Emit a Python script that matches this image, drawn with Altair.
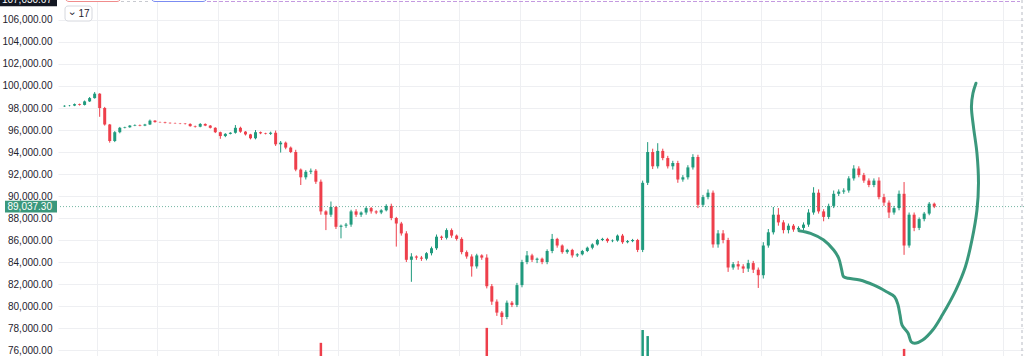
import altair as alt
import pandas as pd

# ---------------- data (prices in thousands of USD, 2-hour candles) ----------------
first_open = 98.15
closes = [
    98.20, 98.22, 98.35, 98.28, 98.60, 98.90, 99.30, 98.00, 96.50, 95.00,
    95.80, 96.20, 96.25, 96.40, 96.45, 96.40, 96.50, 96.85, 96.72, 96.70,
    96.65, 96.62, 96.60, 96.58, 96.55, 96.35, 96.30, 96.55, 96.40, 96.20,
    95.80, 95.45, 95.65, 95.75, 96.20, 95.85, 95.60, 95.25, 95.80, 95.70,
    95.65, 95.75, 94.70, 94.85, 94.40, 94.00, 92.40, 91.70, 92.20, 92.30,
    91.30, 88.60, 88.30, 89.00, 87.20, 87.30, 87.40, 88.60, 88.30, 88.50,
    88.90, 88.60, 88.50, 88.70, 89.10, 88.00, 87.50, 86.60, 84.20, 84.50,
    84.40, 84.30, 84.80, 85.25, 86.30, 86.20, 86.90, 86.40, 86.10, 84.90,
    84.50, 83.60, 84.60, 84.40, 81.80, 80.40, 79.40, 79.00, 80.30, 80.10,
    81.90, 84.00, 84.60, 84.20, 84.30, 84.00, 85.00, 86.10, 85.50, 84.90,
    85.10, 84.60, 84.70, 85.00, 85.30, 85.60, 86.00, 86.10, 85.90, 85.95,
    86.40, 85.80, 85.90, 86.00, 85.10, 91.20, 94.00, 92.70, 94.10, 93.45,
    92.70, 93.00, 91.50, 91.70, 92.60, 93.55, 89.20, 89.90, 90.30, 85.60,
    86.60, 86.00, 83.50, 83.80, 83.60, 83.40, 83.90, 83.30, 82.80, 85.50,
    86.70, 88.30, 87.60, 86.90, 87.30, 86.95, 87.10, 87.40, 88.50, 90.30,
    88.60, 88.10, 89.10, 90.20, 90.40, 90.50, 91.60, 92.50, 91.90, 91.40,
    91.00, 91.40, 89.90, 89.40, 88.50, 88.90, 90.20, 85.50, 88.30, 87.10,
    87.90, 88.40, 89.30, 89.0373,
]
wick_hi = [
    0.05, 0.05, 0.06, 0.05, 0.08, 0.10, 0.15, 0.05, 0.10, 0.05,
    0.10, 0.08, 0.05, 0.05, 0.06, 0.05, 0.06, 0.10, 0.05, 0.04,
    0.05, 0.04, 0.05, 0.04, 0.05, 0.06, 0.05, 0.08, 0.05, 0.05,
    0.05, 0.05, 0.06, 0.05, 0.25, 0.10, 0.05, 0.05, 0.20, 0.06,
    0.05, 0.10, 0.20, 0.15, 0.10, 0.10, 0.20, 0.10, 0.15, 0.20,
    0.15, 0.20, 0.10, 0.50, 0.10, 0.10, 0.15, 0.15, 0.20, 0.10,
    0.15, 0.10, 0.10, 0.10, 0.15, 0.20, 0.10, 0.15, 0.20, 0.30,
    0.10, 0.15, 0.10, 0.15, 0.20, 0.10, 0.16, 0.15, 0.10, 0.15,
    0.15, 0.20, 0.15, 0.10, 0.30, 0.20, 0.20, 0.15, 0.20, 0.15,
    0.20, 0.20, 0.40, 0.15, 0.10, 0.10, 0.15, 0.45, 0.10, 0.10,
    0.10, 0.10, 0.10, 0.10, 0.10, 0.10, 0.10, 0.10, 0.10, 0.10,
    0.10, 0.15, 0.10, 0.10, 0.10, 0.20, 0.90, 0.30, 0.70, 0.20,
    0.20, 0.20, 0.20, 0.20, 0.20, 0.25, 0.20, 0.20, 0.30, 0.20,
    0.30, 0.30, 0.20, 0.20, 0.30, 0.20, 0.30, 0.20, 0.20, 0.30,
    0.30, 0.70, 0.60, 0.20, 0.20, 0.15, 0.15, 0.20, 0.30, 0.50,
    0.30, 0.20, 0.20, 0.30, 0.20, 0.20, 0.20, 0.30, 0.20, 0.20,
    0.20, 0.20, 0.30, 0.30, 0.20, 0.20, 0.30, 1.07, 0.20, 0.20,
    0.15, 0.15, 0.15, 0.10,
]
wick_lo = [
    0.05, 0.05, 0.05, 0.06, 0.05, 0.05, 0.05, 0.80, 0.10, 0.15,
    0.10, 0.10, 0.05, 0.05, 0.05, 0.06, 0.05, 0.05, 0.05, 0.04,
    0.05, 0.05, 0.04, 0.05, 0.05, 0.05, 0.08, 0.05, 0.05, 0.06,
    0.08, 0.25, 0.10, 0.05, 0.08, 0.10, 0.10, 0.10, 0.10, 0.08,
    0.05, 0.10, 0.15, 0.75, 0.15, 0.10, 0.15, 0.70, 0.20, 0.20,
    0.20, 0.30, 1.40, 0.20, 0.20, 1.05, 0.20, 0.20, 0.20, 0.20,
    0.20, 0.20, 0.15, 0.15, 0.10, 0.20, 2.10, 0.20, 0.20, 2.00,
    0.20, 0.20, 0.15, 0.20, 0.15, 0.20, 0.15, 0.20, 0.15, 0.20,
    0.20, 0.93, 0.20, 0.20, 0.20, 0.30, 0.30, 0.73, 0.20, 0.20,
    0.20, 0.20, 0.20, 0.20, 0.30, 0.20, 0.20, 0.20, 0.20, 0.15,
    0.15, 0.20, 0.15, 0.10, 0.10, 0.15, 0.10, 0.10, 0.15, 0.10,
    0.10, 0.15, 0.10, 0.10, 0.20, 0.20, 0.20, 0.25, 0.20, 0.20,
    0.20, 0.30, 0.30, 0.20, 0.20, 0.20, 0.30, 0.20, 0.20, 0.30,
    0.30, 0.30, 0.40, 0.20, 0.30, 0.40, 0.30, 0.30, 1.16, 0.30,
    0.20, 0.20, 0.30, 0.30, 0.30, 0.20, 0.20, 0.20, 0.20, 0.20,
    0.20, 0.40, 0.20, 0.20, 0.20, 0.20, 0.20, 0.20, 0.20, 0.20,
    0.20, 0.20, 0.20, 0.30, 0.50, 0.20, 0.20, 0.85, 0.20, 0.30,
    0.20, 0.20, 0.15, 0.14,
]
assert len(closes) == len(wick_hi) == len(wick_lo) == 174

# visible tops of the largest volume bars (volume pane mostly below the view)
vol_idx = [51, 84, 115, 116, 167]
vol_val = [37, 79, 73, 56, 20]

# hand-drawn projection curve (candle-index units, price in thousands)
curve_t = [146.1, 148.4, 151.0, 153.0, 154.0, 154.6, 154.96, 155.9, 158.2, 160.9,
           163.5, 165.1, 165.8, 166.2, 166.6, 167.8, 168.4, 169.1, 170.7, 172.7,
           174.6, 177.3, 179.2, 180.5, 181.5, 181.8, 181.5, 180.8, 180.4, 180.7, 181.3]
curve_p = [86.85, 86.61, 86.00, 85.09, 84.34, 83.27, 82.67, 82.52, 82.36, 81.91,
           81.30, 80.85, 80.09, 79.18, 78.27, 77.52, 76.76, 76.61, 76.91, 77.82,
           79.18, 81.45, 83.57, 86.00, 88.73, 91.16, 93.88, 96.30, 98.12, 99.34, 100.25]

last_price = 89037.30
last_label = "89,037.30"
top_label = "107,030.67"
button_label = "17"
y_ticks = list(range(76000, 106001, 2000))
day_lines = [6.46 + 12.008 * k for k in range(16)]

# ---------------- styles ----------------
UP = "#1f9a7d"
DOWN = "#ee3f4b"
TEAL = "#3a987c"
GRID = "#eeeff2"
TXT = "#1e222d"
FONT = "Liberation Sans"
FS = 10

X_DOM = [-0.295, 189.86]
Y_DOM = [75455, 107818]

opens = [first_open] + closes[:-1]
rows = []
for i, (o, c, wh, wl) in enumerate(zip(opens, closes, wick_hi, wick_lo)):
    rows.append(dict(i=i, open=o * 1000, close=c * 1000,
                     high=(max(o, c) + wh) * 1000, low=(min(o, c) - wl) * 1000,
                     dir="up" if c >= o else "down"))
df = pd.DataFrame(rows)

vdf = pd.DataFrame({"i": vol_idx, "vol": vol_val,
                    "dir": [df.loc[k, "dir"] for k in vol_idx]})
cdf = pd.DataFrame({"t": curve_t, "p": [v * 1000 for v in curve_p],
                    "k": list(range(len(curve_t)))})
one = pd.DataFrame({"a": [0]})

xs = alt.Scale(domain=X_DOM, nice=False, zero=False)
ys = alt.Scale(domain=Y_DOM, nice=False, zero=False)
color = alt.Color("dir:N", scale=alt.Scale(domain=["up", "down"], range=[UP, DOWN]), legend=None)

x_axis = alt.Axis(values=day_lines, grid=True, gridColor=GRID, labels=False, ticks=False,
                  domain=False, title=None)
y_axis = alt.Axis(values=y_ticks, format=",.2f", grid=True, gridColor=GRID, ticks=False,
                  domain=False, title=None, labelPadding=6, labelFontSize=FS,
                  labelColor=TXT, labelFont=FONT, labelOverlap=False, labelBound=False,
                  labelFlush=False)


def X(field):
    return alt.X(field, scale=xs, axis=x_axis)


def Y(field=None, datum=None):
    if datum is not None:
        return alt.Y(datum=datum, scale=ys, axis=y_axis)
    return alt.Y(field, scale=ys, axis=y_axis)


wicks = alt.Chart(df).mark_rule(strokeWidth=1).encode(
    x=X("i:Q"), y=Y("low:Q"), y2="high:Q", color=color,
)
bodies = alt.Chart(df).mark_bar(size=3).encode(
    x=X("i:Q"), y=Y("open:Q"), y2="close:Q", color=color,
)
price_line = alt.Chart(one).mark_rule(color=TEAL, strokeWidth=1, strokeDash=[1, 2], opacity=0.7).encode(
    y=Y(datum=last_price)
)
curve = alt.Chart(cdf).mark_line(color=TEAL, strokeWidth=3, interpolate="catmull-rom",
                                  strokeCap="round", strokeJoin="round").encode(
    x=X("t:Q"), y=Y("p:Q"), order="k:Q",
)
label_box = alt.Chart(one).mark_rect(color=TEAL).encode(
    x=alt.value(-53), x2=alt.value(-1),
    y=Y(datum=last_price + 540), y2=alt.datum(last_price - 540),
)
label_txt = alt.Chart(one).mark_text(align="right", baseline="middle", color="white",
                                     fontSize=FS, font=FONT).encode(
    x=alt.value(-6), y=Y(datum=last_price), text=alt.value(last_label)
)
top_box = alt.Chart(one).mark_rect(color="#131722").encode(
    x=alt.value(-58), x2=alt.value(-1),
    y=Y(datum=108700), y2=alt.datum(107254),
)
top_txt = alt.Chart(one).mark_text(align="right", baseline="middle", color="white",
                                   fontSize=FS, font=FONT).encode(
    x=alt.value(-6), y=Y(datum=107780), text=alt.value(top_label)
)

# toolbar fragments at the top edge
red_tab = alt.Chart(one).mark_rect(fill="white", stroke="#f08c8c", strokeWidth=1, cornerRadius=4).encode(
    x=alt.value(7), x2=alt.value(63), y=alt.value(-10), y2=alt.value(1.5))
gray_dash = alt.Chart(one).mark_rule(color="#c8cad0", strokeDash=[3, 3]).encode(
    x=alt.value(63), x2=alt.value(93), y=alt.value(1.5))
blue_tab = alt.Chart(one).mark_rect(fill="white", stroke="#7b8cf2", strokeWidth=1, cornerRadius=4).encode(
    x=alt.value(93), x2=alt.value(149), y=alt.value(-10), y2=alt.value(1.5))
purple_dash = alt.Chart(one).mark_rule(color="#c49ae0", strokeDash=[4, 2], strokeWidth=1).encode(
    x=alt.value(149), x2=alt.value(962), y=alt.value(1.5))
right_dash = alt.Chart(one).mark_rule(color="#b8bbc4", strokeDash=[3, 3], strokeWidth=1).encode(
    x=alt.value(964), y=alt.value(0), y2=alt.value(356))
btn = alt.Chart(one).mark_rect(fill="white", stroke="#d6d8de", strokeWidth=1, cornerRadius=3).encode(
    x=alt.value(7), x2=alt.value(34), y=alt.value(6), y2=alt.value(21))
btn_txt = alt.Chart(one).mark_text(align="center", baseline="middle", color=TXT, fontSize=10,
                                   font=FONT).encode(
    x=alt.value(26), y=alt.value(13.5), text=alt.value(button_label))
btn_chev = alt.Chart(one).mark_text(align="center", baseline="middle", color=TXT, fontSize=11,
                                    angle=90, font=FONT).encode(
    x=alt.value(13.5), y=alt.value(13.5), text=alt.value("›"))

price_layers = alt.layer(
    wicks, bodies, price_line, curve, label_box, label_txt, top_box, top_txt,
    red_tab, gray_dash, blue_tab, purple_dash, right_dash, btn, btn_txt, btn_chev,
)

volume = alt.Chart(vdf).mark_bar(size=2.5).encode(
    x=X("i:Q"),
    y=alt.Y("vol:Q", scale=alt.Scale(domain=[0, 1000], nice=False), axis=None),
    color=color,
)

chart = alt.layer(price_layers, volume).resolve_scale(y="independent").properties(
    width=966, height=356,
    padding={"left": 58, "top": 0, "right": 0, "bottom": 0},
    autosize=alt.AutoSizeParams(type="none"),
    background="white",
).configure_view(stroke=None).configure_axis(labelOverlap=False, ticks=False, domain=False)

chart.save("out.html", embed_options={"renderer": "svg", "actions": False})
